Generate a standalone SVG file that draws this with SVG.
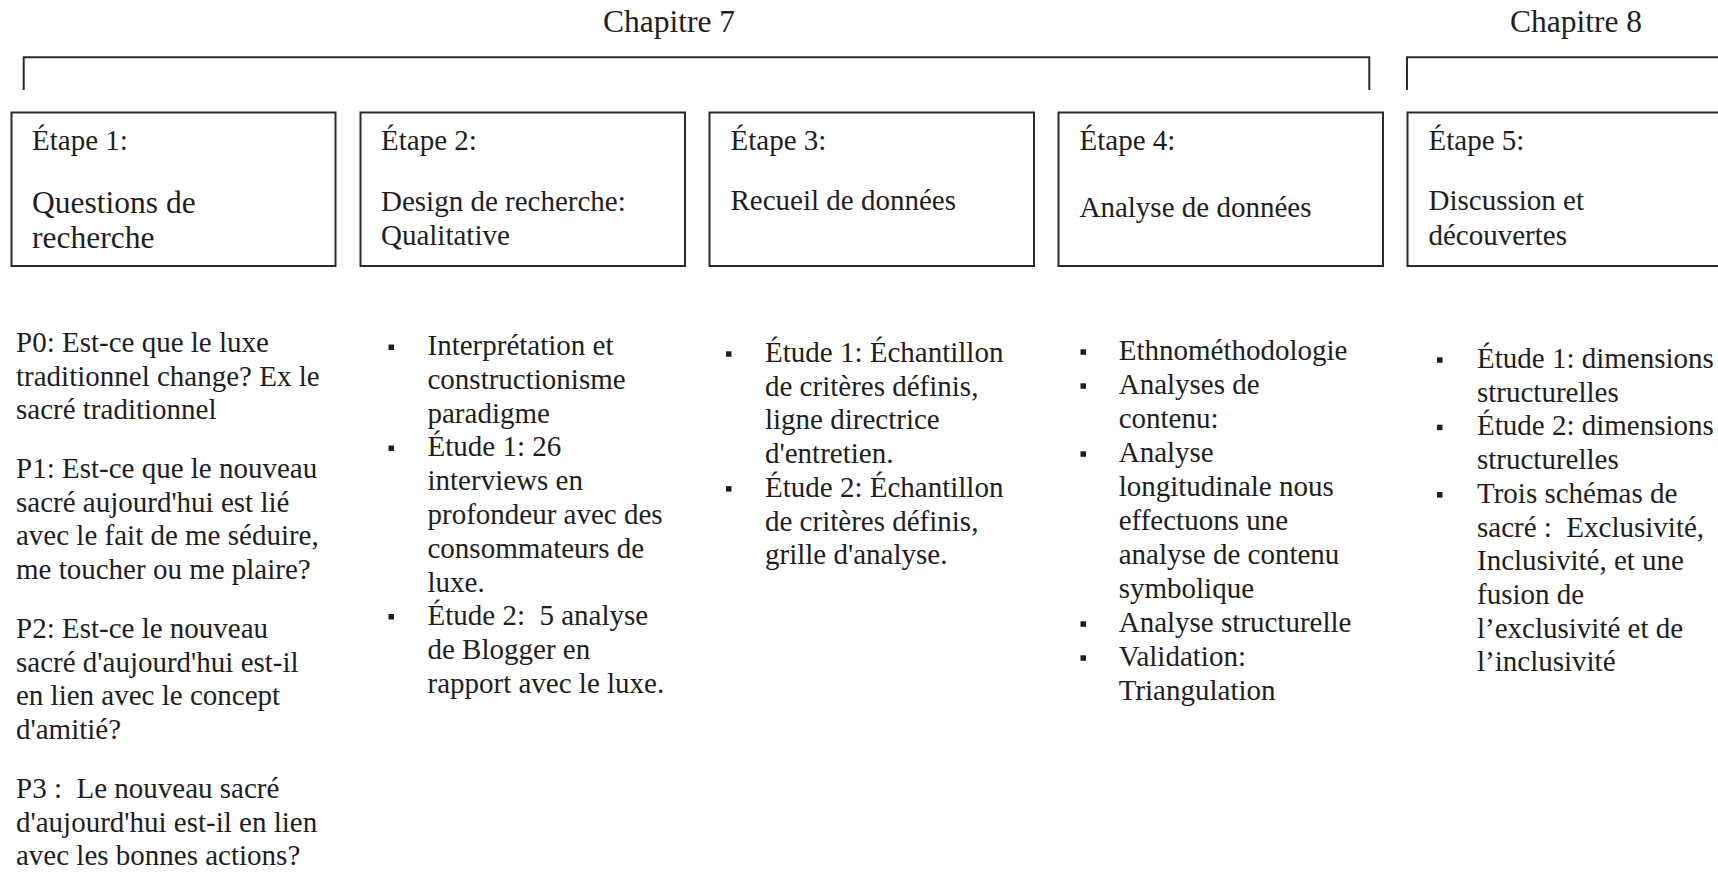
<svg xmlns="http://www.w3.org/2000/svg" width="1718" height="873" viewBox="0 0 1718 873">
<style>
text{font-family:"Liberation Serif","Times New Roman",serif;font-size:29px;fill:#1e1e1e;white-space:pre}
.ch{font-size:31.5px}
.big{font-size:31.5px}
.box{fill:#fff;stroke:#2a2a2a;stroke-width:2}
.br{fill:none;stroke:#2a2a2a;stroke-width:2}
.bul{fill:#1e1e1e}
</style>
<defs><rect id="b" width="5.5" height="5.5" class="bul"/></defs>
<rect width="1718" height="873" fill="#fff"/>

<g id="connectors">
<path class="br" d="M23.7,90 V57.3 H1369.3 V90"/>
<path class="br" d="M1407,90 V57.3 H1740"/>
</g>

<g id="chapitre7"><text class="ch" x="603" y="32">Chapitre 7</text></g>
<g id="chapitre8"><text class="ch" x="1510" y="32">Chapitre 8</text></g>

<g id="etape1">
<rect class="box" x="11.5" y="112.5" width="324" height="153.5"/>
<text x="32" y="150">Étape 1:</text>
<text class="big" x="32" y="213">Questions de</text>
<text class="big" x="32" y="248">recherche</text>
</g>
<g id="etape2">
<rect class="box" x="360.5" y="112.5" width="324.5" height="153.5"/>
<text x="381" y="150">Étape 2:</text>
<text x="381" y="211">Design de recherche:</text>
<text x="381" y="245">Qualitative</text>
</g>
<g id="etape3">
<rect class="box" x="709.5" y="112.5" width="324.5" height="153.5"/>
<text x="730.5" y="150">Étape 3:</text>
<text x="730.5" y="210">Recueil de données</text>
</g>
<g id="etape4">
<rect class="box" x="1058.5" y="112.5" width="324.5" height="153.5"/>
<text x="1079.5" y="150">Étape 4:</text>
<text x="1079.5" y="217">Analyse de données</text>
</g>
<g id="etape5">
<rect class="box" x="1407.5" y="112.5" width="324.5" height="153.5"/>
<text x="1428.5" y="150">Étape 5:</text>
<text x="1428.5" y="210">Discussion et</text>
<text x="1428.5" y="245">découvertes</text>
</g>

<g id="questions">
<text x="16"><tspan x="16" y="352">P0: Est-ce que le luxe</tspan><tspan x="16" y="385.7">traditionnel change? Ex le</tspan><tspan x="16" y="419.4">sacré traditionnel</tspan></text>
<text x="16"><tspan x="16" y="478">P1: Est-ce que le nouveau</tspan><tspan x="16" y="511.7">sacré aujourd'hui est lié</tspan><tspan x="16" y="545.4">avec le fait de me séduire,</tspan><tspan x="16" y="579.1">me toucher ou me plaire?</tspan></text>
<text x="16"><tspan x="16" y="638">P2: Est-ce le nouveau</tspan><tspan x="16" y="671.7">sacré d'aujourd'hui est-il</tspan><tspan x="16" y="705.4">en lien avec le concept</tspan><tspan x="16" y="739.1">d'amitié?</tspan></text>
<text x="16"><tspan x="16" y="798">P3 :  Le nouveau sacré</tspan><tspan x="16" y="831.7">d'aujourd'hui est-il en lien</tspan><tspan x="16" y="865.4">avec les bonnes actions?</tspan></text>
</g>

<g id="design">
<use href="#b" x="388.5" y="344.5"/><use href="#b" x="388.5" y="445.5"/><use href="#b" x="388.5" y="614"/>
<text x="427.5"><tspan x="427.5" y="355">Interprétation et</tspan><tspan x="427.5" y="388.8">constructionisme</tspan><tspan x="427.5" y="422.6">paradigme</tspan><tspan x="427.5" y="456.4">Étude 1: 26</tspan><tspan x="427.5" y="490.2">interviews en</tspan><tspan x="427.5" y="524">profondeur avec des</tspan><tspan x="427.5" y="557.8">consommateurs de</tspan><tspan x="427.5" y="591.6">luxe.</tspan><tspan x="427.5" y="625.4">Étude 2:  5 analyse</tspan><tspan x="427.5" y="659.2">de Blogger en</tspan><tspan x="427.5" y="693">rapport avec le luxe.</tspan></text>
</g>

<g id="recueil">
<use href="#b" x="726" y="351.3"/><use href="#b" x="726" y="486.1"/>
<text x="765"><tspan x="765" y="362">Étude 1: Échantillon</tspan><tspan x="765" y="395.7">de critères définis,</tspan><tspan x="765" y="429.4">ligne directrice</tspan><tspan x="765" y="463.1">d'entretien.</tspan><tspan x="765" y="496.8">Étude 2: Échantillon</tspan><tspan x="765" y="530.5">de critères définis,</tspan><tspan x="765" y="564.2">grille d'analyse.</tspan></text>
</g>

<g id="analyse">
<use href="#b" x="1080.5" y="349.3"/><use href="#b" x="1080.5" y="383.3"/><use href="#b" x="1080.5" y="451.3"/><use href="#b" x="1080.5" y="621.3"/><use href="#b" x="1080.5" y="655.3"/>
<text x="1118.7"><tspan x="1118.7" y="360">Ethnométhodologie</tspan><tspan x="1118.7" y="394">Analyses de</tspan><tspan x="1118.7" y="428">contenu:</tspan><tspan x="1118.7" y="462">Analyse</tspan><tspan x="1118.7" y="496">longitudinale nous</tspan><tspan x="1118.7" y="530">effectuons une</tspan><tspan x="1118.7" y="564">analyse de contenu</tspan><tspan x="1118.7" y="598">symbolique</tspan><tspan x="1118.7" y="632">Analyse structurelle</tspan><tspan x="1118.7" y="666">Validation:</tspan><tspan x="1118.7" y="700">Triangulation</tspan></text>
</g>

<g id="discussion">
<use href="#b" x="1437" y="357.3"/><use href="#b" x="1437" y="424.7"/><use href="#b" x="1437" y="492.1"/>
<text x="1477"><tspan x="1477" y="368">Étude 1: dimensions</tspan><tspan x="1477" y="401.7">structurelles</tspan><tspan x="1477" y="435.4">Étude 2: dimensions</tspan><tspan x="1477" y="469.1">structurelles</tspan><tspan x="1477" y="502.8">Trois schémas de</tspan><tspan x="1477" y="536.5">sacré :  Exclusivité,</tspan><tspan x="1477" y="570.2">Inclusivité, et une</tspan><tspan x="1477" y="603.9">fusion de</tspan><tspan x="1477" y="637.6">l’exclusivité et de</tspan><tspan x="1477" y="671.3">l’inclusivité</tspan></text>
</g>
</svg>
